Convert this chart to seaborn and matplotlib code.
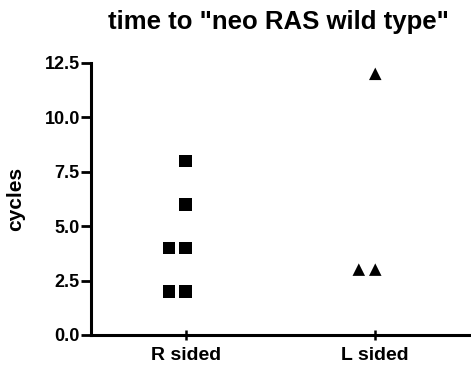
import matplotlib
matplotlib.use("Agg")
import matplotlib.pyplot as plt
import seaborn as sns
import pandas as pd

# Number of cycles until "neo RAS wild type", by tumour side
categories = ["R sided", "L sided"]
r_sided_cycles = [8, 6, 4, 4, 2, 2]
l_sided_cycles = [12, 3, 3]
y_ticks = [0.0, 2.5, 5.0, 7.5, 10.0, 12.5]

df_r = pd.DataFrame({"side": "R sided", "cycles": r_sided_cycles})
df_l = pd.DataFrame({"side": "L sided", "cycles": l_sided_cycles})

sns.set_theme(style="ticks")
plt.rcParams["font.family"] = ["Liberation Sans", "DejaVu Sans"]
plt.rcParams["font.weight"] = "bold"
plt.rcParams["text.color"] = "black"
plt.rcParams["axes.labelcolor"] = "black"

fig, ax = plt.subplots(figsize=(4.71, 3.66), dpi=100)
fig.subplots_adjust(left=0.193, right=0.998, bottom=0.085, top=0.828)

# edge width is counted in swarm spacing; the edge itself is not drawn
common = dict(x="side", y="cycles", order=categories, color="black",
              size=9, linewidth=2.3, edgecolor="none", ax=ax)
sns.swarmplot(data=df_r, marker="s", **common)
sns.swarmplot(data=df_l, marker="^", **common)

ax.set_ylim(0, 12.5)
ax.set_xlim(-0.5, 1.5)
ax.set_yticks(y_ticks)
ax.set_yticklabels([f"{v:.1f}" for v in y_ticks])
ax.set_xlabel("")
ax.set_ylabel("cycles", fontsize=15, fontweight="bold", color="black")
ax.yaxis.set_label_coords(-0.174, 0.5)

sns.despine(ax=ax)
for side in ("left", "bottom"):
    ax.spines[side].set_linewidth(2.2)
    ax.spines[side].set_color("black")

ax.tick_params(axis="y", direction="out", length=7, width=2, pad=1,
               labelsize=13, colors="black")
ax.tick_params(axis="x", direction="inout", length=7, width=1.8, pad=5.5,
               labelsize=14, colors="black")
for lbl in ax.get_xticklabels() + ax.get_yticklabels():
    lbl.set_fontweight("bold")

fig.text(278 / 471, 1 - 29 / 366, 'time to "neo RAS wild type"',
         ha="center", va="baseline", fontsize=18.5, fontweight="bold",
         color="black")

fig.savefig("out.png", dpi=100)
